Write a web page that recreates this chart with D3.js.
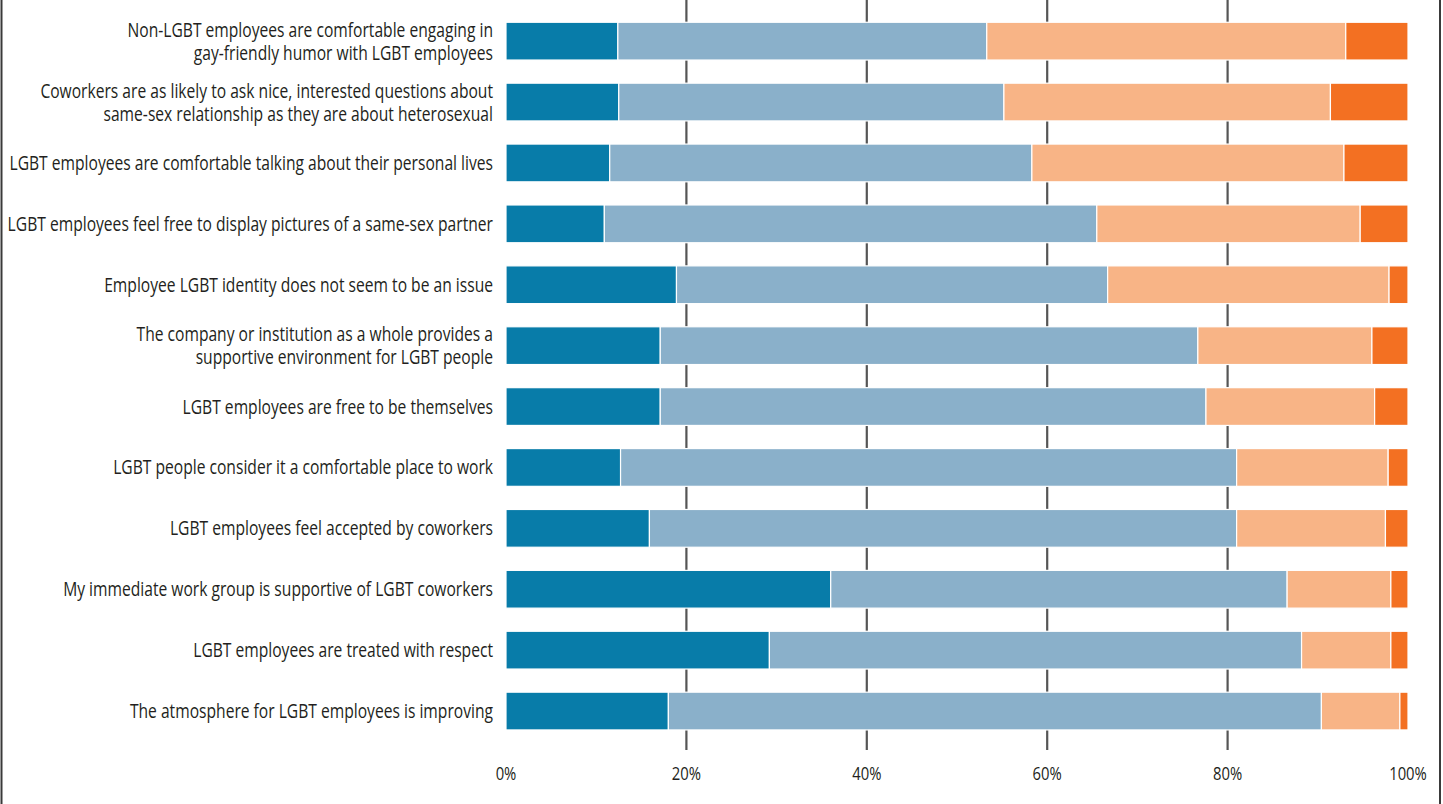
<!DOCTYPE html>
<html>
<head>
<meta charset="utf-8">
<script src="https://cdn.jsdelivr.net/npm/d3@7"></script>
<style>
  body { margin: 0; background: #fff; }
  svg text { font-family: "Open Sans", "Noto Sans", sans-serif; fill: #231f20; }
</style>
</head>
<body>
<div id="chart"></div>
<script>
// statements (top to bottom), each label split into its printed lines
const categories = [
    ["Non-LGBT employees are comfortable engaging in", "gay-friendly humor with LGBT employees"],
    ["Coworkers are as likely to ask nice, interested questions about", "same-sex relationship as they are about heterosexual"],
    ["LGBT employees are comfortable talking about their personal lives"],
    ["LGBT employees feel free to display pictures of a same-sex partner"],
    ["Employee LGBT identity does not seem to be an issue"],
    ["The company or institution as a whole provides a", "supportive environment for LGBT people"],
    ["LGBT employees are free to be themselves"],
    ["LGBT people consider it a comfortable place to work"],
    ["LGBT employees feel accepted by coworkers"],
    ["My immediate work group is supportive of LGBT coworkers"],
    ["LGBT employees are treated with respect"],
    ["The atmosphere for LGBT employees is improving"]
];

const seriesNames = ["Strongly agree", "Agree", "Disagree", "Strongly disagree"];

// percentages per statement, same order as categories
const stronglyAgree    = [12.4, 12.5, 11.5, 10.9, 18.9, 17.1, 17.1, 12.7, 15.9, 36.0, 29.2, 18.0];
const agree            = [40.9, 42.7, 46.8, 54.6, 47.8, 59.6, 60.5, 68.3, 65.1, 50.6, 59.0, 72.4];
const disagree         = [39.8, 36.2, 34.6, 29.2, 31.2, 19.3, 18.7, 16.8, 16.5, 11.5, 9.9, 8.7];
const stronglyDisagree = [6.9, 8.6, 7.1, 5.3, 2.1, 4.0, 3.7, 2.2, 2.5, 1.9, 1.9, 0.9];

const tickValues = [0, 20, 40, 60, 80, 100];

const colors = ["#087ca9", "#8ab0ca", "#f8b486", "#f37022"];

const width = 1443, height = 804;
const svg = d3.select("#chart").append("svg")
    .attr("width", width)
    .attr("height", height);

// rows for the stack
let rows = categories.map((c, i) => ({
    key: i,
    "Strongly agree": stronglyAgree[i],
    "Agree": agree[i],
    "Disagree": disagree[i],
    "Strongly disagree": stronglyDisagree[i]
}));
let stacked = d3.stack().keys(seriesNames)(rows);

let xScale = d3.scaleLinear().domain([0, 100]).range([506, 1408]);
let yScale = d3.scaleBand()
    .domain(d3.range(categories.length))
    .range([10.7, 741.5])
    .paddingInner(0.38)
    .paddingOuter(0.19);

// frame sides
svg.append("line").attr("x1", 1.5).attr("x2", 1.5).attr("y1", 0).attr("y2", height)
    .attr("stroke", "#3a3a3a").attr("stroke-width", 2);
svg.append("line").attr("x1", 1440).attr("x2", 1440).attr("y1", 0).attr("y2", height)
    .attr("stroke", "#3a3a3a").attr("stroke-width", 2);

// gridlines behind bars
svg.append("g").selectAll("line")
    .data(tickValues.filter(d => d > 0 && d < 100))
    .enter().append("line")
    .attr("x1", d => xScale(d))
    .attr("x2", d => xScale(d))
    .attr("y1", 0)
    .attr("y2", 750)
    .attr("stroke", "#555")
    .attr("stroke-width", 2.2);

// bars
svg.append("g").selectAll("g")
    .data(stacked).enter()
    .append("g")
    .attr("fill", (d, i) => colors[i])
    .selectAll("rect")
    .data(d => d).enter()
    .append("rect")
    .attr("x", d => xScale(d[0]))
    .attr("y", d => yScale(d.data.key))
    .attr("width", d => xScale(d[1]) - xScale(d[0]))
    .attr("height", yScale.bandwidth())
    .attr("stroke", "#fff")
    .attr("stroke-width", 1.2);

// category labels, squeezed horizontally to look like a condensed face
let labelG = svg.append("g");
let labels = labelG.selectAll("text")
    .data(categories).enter()
    .append("text")
    .attr("text-anchor", "end")
    .style("font-size", "19.5px");

labels.each(function(lines, i) {
    let cy = yScale(i) + yScale.bandwidth() / 2;
    let lineH = 23;
    let first = cy + 7 - (lines.length - 1) * lineH / 2;
    d3.select(this).selectAll("tspan")
        .data(lines).enter()
        .append("tspan")
        .attr("x", 0)
        .attr("y", (d, j) => first + j * lineH)
        .text(d => d);
});
// the third statement is 484px wide in the reference
let refLen = labels.filter((d, i) => i === 2).node().getComputedTextLength();
let k = 484 / refLen;
labelG.attr("transform", `translate(493,0) scale(${k},1)`);

// x axis labels
let ticks = svg.append("g").selectAll("text")
    .data(tickValues).enter()
    .append("text")
    .attr("text-anchor", "middle")
    .style("font-size", "19px")
    .text(d => d + "%");
let last = ticks.filter(d => d === 100).node().getComputedTextLength();
let kt = 37.7 / last;
ticks.attr("transform", d => `translate(${xScale(d)},780) scale(${kt},1)`);
</script>
</body>
</html>
